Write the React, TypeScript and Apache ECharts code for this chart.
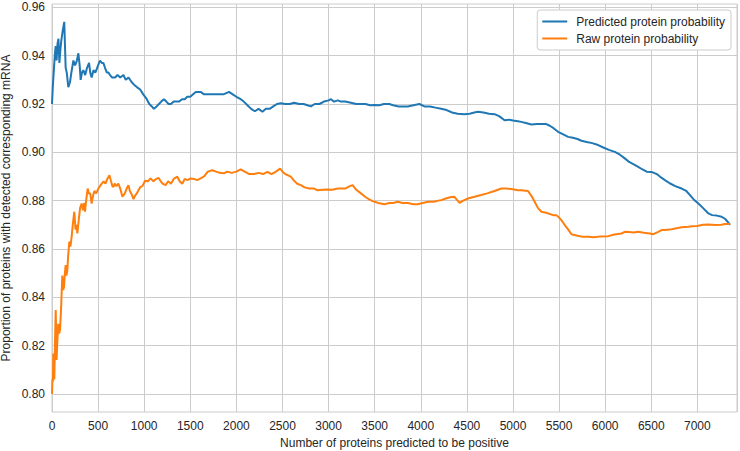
import React, { useEffect, useRef } from "react";
import * as echarts from "echarts";

const predictedX = [0,10,20,30,40,50,60,70,80,90,100,115,133,140,148,160,177,195,210,232,250,270,286,300,311,325,340,360,380,402,415,430,450,470,490,510,521,540,557,575,595,612,630,650,685,710,740,775,800,830,865,890,920,956,990,1028,1055,1083,1105,1135,1160,1185,1213,1240,1265,1290,1320,1350,1380,1410,1440,1467,1500,1530,1560,1590,1612,1650,1690,1739,1780,1820,1860,1920,1960,2000,2047,2080,2120,2160,2200,2240,2283,2320,2360,2400,2440,2482,2530,2580,2626,2680,2730,2770,2808,2850,2900,2950,3000,3025,3060,3100,3134,3180,3242,3300,3350,3400,3450,3496,3550,3600,3659,3700,3760,3800,3859,3920,3985,4040,4100,4160,4221,4280,4340,4400,4474,4530,4580,4620,4680,4740,4800,4850,4909,4960,5000,5054,5090,5150,5199,5260,5320,5362,5400,5440,5489,5540,5598,5650,5700,5742,5800,5860,5924,5980,6040,6105,6160,6213,6260,6310,6359,6400,6450,6503,6560,6610,6648,6700,6760,6829,6880,6920,6960,7011,7060,7120,7160,7210,7264,7300,7343,7355];
const predictedY = [0.920,0.928,0.934,0.940,0.944,0.938,0.945,0.947,0.937,0.942,0.946,0.950,0.954,0.945,0.935,0.933,0.927,0.929,0.933,0.938,0.936,0.938,0.941,0.936,0.930,0.933,0.934,0.932,0.935,0.937,0.933,0.931,0.934,0.933,0.935,0.937,0.938,0.937,0.937,0.935,0.933,0.933,0.932,0.931,0.931,0.932,0.931,0.932,0.930,0.931,0.929,0.928,0.927,0.926,0.924,0.922,0.920,0.919,0.918,0.919,0.920,0.921,0.922,0.921,0.920,0.920,0.921,0.921,0.921,0.922,0.922,0.923,0.923,0.924,0.925,0.925,0.925,0.924,0.924,0.924,0.924,0.924,0.924,0.925,0.924,0.923,0.922,0.921,0.9195,0.918,0.917,0.918,0.9168,0.918,0.918,0.919,0.920,0.9203,0.920,0.920,0.9205,0.920,0.920,0.9195,0.919,0.920,0.920,0.921,0.9215,0.922,0.921,0.9215,0.921,0.921,0.9205,0.920,0.920,0.920,0.9195,0.9196,0.9195,0.920,0.920,0.9195,0.919,0.919,0.919,0.9195,0.920,0.919,0.919,0.9185,0.918,0.9175,0.9165,0.916,0.9158,0.916,0.9165,0.9168,0.9165,0.916,0.9158,0.915,0.9133,0.9135,0.9132,0.9129,0.9126,0.912,0.9115,0.9117,0.9117,0.9117,0.911,0.910,0.9085,0.9075,0.9064,0.906,0.9055,0.9048,0.9043,0.9038,0.903,0.902,0.901,0.9002,0.899,0.8975,0.896,0.895,0.894,0.893,0.892,0.8919,0.891,0.8895,0.8885,0.8872,0.886,0.885,0.884,0.8823,0.8805,0.8788,0.877,0.8747,0.874,0.8738,0.8733,0.8725,0.8706,0.870];

const rawX = [0,5,10,14,20,25,32,40,45,50,58,68,78,87,97,105,112,122,130,140,148,157,166,175,188,200,213,225,242,255,265,275,290,305,322,335,350,358,370,387,400,415,430,445,460,480,503,520,540,560,580,600,623,640,655,666,680,700,720,740,764,790,810,829,845,860,884,900,920,938,960,980,1010,1040,1068,1100,1130,1155,1180,1200,1232,1260,1290,1320,1359,1385,1413,1440,1470,1503,1540,1575,1612,1650,1690,1739,1780,1820,1865,1900,1950,2000,2047,2090,2140,2191,2240,2290,2337,2380,2430,2474,2500,2530,2560,2590,2620,2660,2699,2740,2790,2843,2880,2930,2989,3040,3100,3134,3180,3230,3261,3300,3351,3400,3440,3478,3540,3604,3660,3700,3750,3800,3860,3920,3967,4020,4080,4140,4190,4221,4280,4330,4365,4400,4420,4460,4520,4583,4655,4720,4800,4873,4927,4980,5054,5090,5163,5200,5235,5270,5308,5360,5435,5471,5500,5525,5560,5600,5634,5700,5760,5815,5880,5950,6033,6100,6177,6213,6260,6310,6359,6420,6485,6522,6570,6612,6648,6700,6760,6830,6902,6938,7000,7060,7120,7192,7260,7300,7355];
const rawY = [0.800,0.806,0.805,0.8167,0.812,0.806,0.820,0.8347,0.826,0.814,0.822,0.829,0.825,0.8264,0.834,0.842,0.849,0.843,0.8443,0.850,0.8533,0.849,0.851,0.857,0.863,0.861,0.865,0.870,0.8754,0.868,0.870,0.8664,0.872,0.877,0.8788,0.876,0.879,0.8754,0.880,0.885,0.883,0.883,0.8788,0.882,0.884,0.883,0.885,0.886,0.887,0.888,0.887,0.889,0.8905,0.888,0.886,0.8857,0.887,0.886,0.8871,0.885,0.8816,0.883,0.885,0.8864,0.884,0.883,0.8806,0.882,0.883,0.8843,0.8857,0.886,0.8882,0.888,0.8892,0.888,0.889,0.8894,0.888,0.887,0.8864,0.888,0.887,0.889,0.8899,0.888,0.887,0.889,0.8885,0.8892,0.889,0.8885,0.8892,0.890,0.892,0.8926,0.892,0.8915,0.8913,0.892,0.8915,0.892,0.8929,0.892,0.891,0.891,0.8915,0.891,0.8919,0.891,0.892,0.8933,0.892,0.891,0.8905,0.8899,0.8885,0.887,0.8864,0.8855,0.885,0.885,0.8843,0.8845,0.8846,0.8845,0.885,0.885,0.885,0.886,0.8864,0.8845,0.883,0.8815,0.8805,0.8798,0.879,0.8785,0.879,0.879,0.8795,0.879,0.879,0.8785,0.8785,0.879,0.8795,0.8795,0.880,0.8802,0.881,0.8815,0.8816,0.880,0.8791,0.880,0.881,0.8816,0.8823,0.883,0.884,0.885,0.885,0.8848,0.8843,0.8843,0.884,0.882,0.8795,0.877,0.8754,0.875,0.874,0.874,0.873,0.8719,0.870,0.868,0.8661,0.8655,0.865,0.865,0.8648,0.8652,0.8653,0.866,0.8664,0.8671,0.867,0.8668,0.8671,0.8667,0.8664,0.8661,0.867,0.8678,0.8678,0.868,0.8685,0.869,0.8692,0.8694,0.8695,0.870,0.8701,0.8699,0.870,0.8703,0.8703];

const yTicks = [0.8, 0.82, 0.84, 0.86, 0.88, 0.9, 0.92, 0.94, 0.96];
const seriesNames = ["Predicted protein probability", "Raw protein probability"];

const FONT = "'Liberation Sans', Arial, sans-serif";
const TEXT = "#262626";
const GRID = "#cccccc";

export default function App() {
  const ref = useRef<HTMLDivElement>(null);
  useEffect(() => {
    if (!ref.current) return;
    const chart = echarts.init(ref.current, null, { renderer: "svg" });
    const pred = predictedX.map((x, i) => [x, predictedY[i]]);
    const raw = rawX.map((x, i) => [x, rawY[i]]);
    chart.setOption({
      animation: false,
      backgroundColor: "#ffffff",
      textStyle: { fontFamily: FONT },
      grid: {
        left: 52,
        right: 3,
        top: 4,
        bottom: 39,
        show: true,
        borderColor: GRID,
        borderWidth: 1,
        containLabel: false,
        outerBoundsMode: "none",
      },
      legend: {
        orient: "vertical",
        right: 9,
        top: 10,
        data: seriesNames,
        icon: "rect",
        backgroundColor: "#ffffff",
        borderColor: GRID,
        borderWidth: 1,
        borderRadius: 3,
        padding: [5, 6, 5, 5],
        itemGap: 4,
        itemWidth: 25,
        itemHeight: 2,
        textStyle: { fontSize: 12, color: TEXT, fontFamily: FONT, padding: [0, 0, 0, 4], lineHeight: 13 },
      },
      xAxis: {
        type: "value",
        min: 0,
        max: 7430,
        interval: 500,
        name: "Number of proteins predicted to be positive",
        nameLocation: "middle",
        nameGap: 25,
        nameMoveOverlap: false,
        nameTextStyle: { fontSize: 12, color: TEXT, fontFamily: FONT },
        axisLine: { show: false },
        axisTick: { show: false },
        axisLabel: {
          fontSize: 12,
          color: TEXT,
          fontFamily: FONT,
          margin: 8,
          showMaxLabel: false,
          formatter: (v: number) => String(v),
        },
        splitLine: { show: true, lineStyle: { color: GRID, width: 1 } },
      },
      yAxis: {
        type: "value",
        min: 0.7925,
        max: 0.9614,
        name: "Proportion of proteins with detected corresponding mRNA",
        nameLocation: "middle",
        nameGap: 40,
        nameMoveOverlap: false,
        nameTextStyle: { fontSize: 12, color: TEXT, fontFamily: FONT },
        axisLine: { show: false },
        axisTick: { show: false, customValues: yTicks },
        axisLabel: {
          fontSize: 12,
          color: TEXT,
          fontFamily: FONT,
          margin: 7,
          customValues: yTicks,
          formatter: (v: number) => v.toFixed(2),
        },
        splitLine: { show: true, lineStyle: { color: GRID, width: 1 } },
      },
      series: [
        {
          name: seriesNames[0],
          type: "line",
          data: pred,
          showSymbol: false,
          symbol: "none",
          lineStyle: { color: "#1f77b4", width: 2 },
          itemStyle: { color: "#1f77b4" },
        },
        {
          name: seriesNames[1],
          type: "line",
          data: raw,
          showSymbol: false,
          symbol: "none",
          lineStyle: { color: "#ff7f0e", width: 2 },
          itemStyle: { color: "#ff7f0e" },
        },
      ],
    });
    return () => chart.dispose();
  }, []);
  return <div ref={ref} style={{ width: 740, height: 451, position: "absolute", left: 0, top: 0 }} />;
}
